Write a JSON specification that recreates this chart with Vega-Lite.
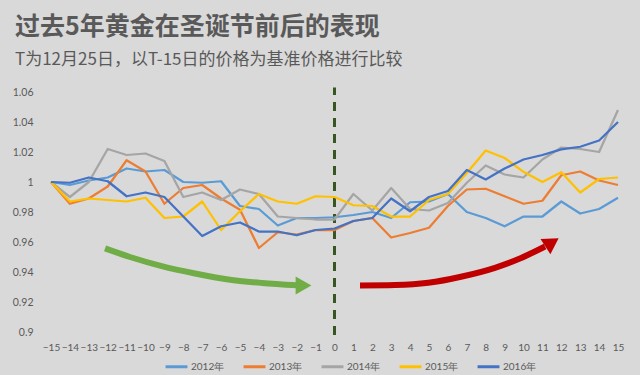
{
  "$schema": "https://vega.github.io/schema/vega-lite/v6.json",
  "autosize": {"type": "none"},
  "width": 567,
  "height": 240,
  "padding": {"left": 51, "top": 92, "right": 22, "bottom": 43},
  "background": "#d9d9d9",
  "title": {
    "text": "过去5年黄金在圣诞节前后的表现",
    "subtitle": "T为12月25日，以T-15日的价格为基准价格进行比较",
    "anchor": "start",
    "frame": "group",
    "dx": -36,
    "offset": 18,
    "font": "Noto Sans CJK SC",
    "fontSize": 25,
    "fontWeight": "bold",
    "color": "#595959",
    "subtitleFont": "Noto Sans CJK SC",
    "subtitleFontSize": 17,
    "subtitleColor": "#595959",
    "subtitlePadding": 12
  },
  "datasets": {
    "gold": [
      {"t": -15, "2012年": 1, "2013年": 1, "2014年": 1, "2015年": 1, "2016年": 1},
      {"t": -14, "2012年": 0.998, "2013年": 0.9855, "2014年": 0.99, "2015年": 0.987, "2016年": 0.9995},
      {"t": -13, "2012年": 1.001, "2013年": 0.989, "2014年": 1.0, "2015年": 0.989, "2016年": 1.003},
      {"t": -12, "2012年": 1.003, "2013年": 0.997, "2014年": 1.022, "2015年": 0.988, "2016年": 1.0005},
      {"t": -11, "2012年": 1.009, "2013年": 1.0145, "2014年": 1.018, "2015年": 0.987, "2016年": 0.9905},
      {"t": -10, "2012年": 1.007, "2013年": 1.007, "2014年": 1.019, "2015年": 0.9895, "2016年": 0.993},
      {"t": -9, "2012年": 1.008, "2013年": 0.9855, "2014年": 1.014, "2015年": 0.976, "2016年": 0.99},
      {"t": -8, "2012年": 1.0, "2013年": 0.996, "2014年": 0.99, "2015年": 0.977, "2016年": 0.977},
      {"t": -7, "2012年": 0.9995, "2013年": 0.998, "2014年": 0.993, "2015年": 0.987, "2016年": 0.964},
      {"t": -6, "2012年": 1.0005, "2013年": 0.989, "2014年": 0.988, "2015年": 0.968, "2016年": 0.9705},
      {"t": -5, "2012年": 0.984, "2013年": 0.9815, "2014年": 0.995, "2015年": 0.9805, "2016年": 0.973},
      {"t": -4, "2012年": 0.982, "2013年": 0.956, "2014年": 0.992, "2015年": 0.992, "2016年": 0.967},
      {"t": -3, "2012年": 0.971, "2013年": 0.9665, "2014年": 0.977, "2015年": 0.987, "2016年": 0.967},
      {"t": -2, "2012年": 0.976, "2013年": 0.965, "2014年": 0.976, "2015年": 0.9855, "2016年": 0.9645},
      {"t": -1, "2012年": 0.976, "2013年": 0.968, "2014年": 0.975, "2015年": 0.9905, "2016年": 0.968},
      {"t": 0, "2012年": 0.9765, "2013年": 0.968, "2014年": 0.975, "2015年": 0.99, "2016年": 0.969},
      {"t": 1, "2012年": 0.978, "2013年": 0.974, "2014年": 0.992, "2015年": 0.9845, "2016年": 0.974},
      {"t": 2, "2012年": 0.98, "2013年": 0.976, "2014年": 0.981, "2015年": 0.984, "2016年": 0.976},
      {"t": 3, "2012年": 0.976, "2013年": 0.963, "2014年": 0.996, "2015年": 0.977, "2016年": 0.989},
      {"t": 4, "2012年": 0.9865, "2013年": 0.966, "2014年": 0.982, "2015年": 0.977, "2016年": 0.9805},
      {"t": 5, "2012年": 0.987, "2013年": 0.9695, "2014年": 0.981, "2015年": 0.988, "2016年": 0.99},
      {"t": 6, "2012年": 0.992, "2013年": 0.984, "2014年": 0.986, "2015年": 0.992, "2016年": 0.994},
      {"t": 7, "2012年": 0.98, "2013年": 0.995, "2014年": 0.9995, "2015年": 1.006, "2016年": 1.008},
      {"t": 8, "2012年": 0.976, "2013年": 0.9955, "2014年": 1.011, "2015年": 1.021, "2016年": 1.0017},
      {"t": 9, "2012年": 0.9705, "2013年": 0.9905, "2014年": 1.005, "2015年": 1.016, "2016年": 1.009},
      {"t": 10, "2012年": 0.977, "2013年": 0.9855, "2014年": 1.003, "2015年": 1.0068, "2016年": 1.015},
      {"t": 11, "2012年": 0.977, "2013年": 0.9875, "2014年": 1.015, "2015年": 1.0, "2016年": 1.018},
      {"t": 12, "2012年": 0.987, "2013年": 1.0045, "2014年": 1.023, "2015年": 1.0065, "2016年": 1.0217},
      {"t": 13, "2012年": 0.979, "2013年": 1.007, "2014年": 1.022, "2015年": 0.993, "2016年": 1.0235},
      {"t": 14, "2012年": 0.982, "2013年": 1.001, "2014年": 1.02, "2015年": 1.002, "2016年": 1.0277},
      {"t": 15, "2012年": 0.9895, "2013年": 0.998, "2014年": 1.048, "2015年": 1.003, "2016年": 1.04}
    ],
    "greenArrow": [
      {"i": 1, "t": -12.14, "v": 0.9557},
      {"i": 2, "t": -10.82, "v": 0.95},
      {"i": 3, "t": -9.14, "v": 0.9439},
      {"i": 4, "t": -7.38, "v": 0.939},
      {"i": 5, "t": -5.62, "v": 0.935},
      {"i": 6, "t": -3.84, "v": 0.9327},
      {"i": 7, "t": -1.98, "v": 0.9312}
    ],
    "greenHead": [{"t": -1.64, "v": 0.931}],
    "redArrow": [
      {"i": 1, "t": 1.35, "v": 0.931},
      {"i": 2, "t": 3.2, "v": 0.9313},
      {"i": 3, "t": 4.96, "v": 0.9328},
      {"i": 4, "t": 6.75, "v": 0.937},
      {"i": 5, "t": 8.49, "v": 0.9428},
      {"i": 6, "t": 9.81, "v": 0.949},
      {"i": 7, "t": 11.14, "v": 0.957}
    ],
    "redHead": [{"t": 11.51, "v": 0.9597}],
    "divider": [{"t": 0, "v": 0.898, "v2": 1.063}]
  },
  "encoding": {
    "x": {"field": "t", "type": "quantitative", "scale": {"domain": [-15, 15], "nice": false, "zero": false}, "axis": {"values": [-15,-14,-13,-12,-11,-10,-9,-8,-7,-6,-5,-4,-3,-2,-1,0,1,2,3,4,5,6,7,8,9,10,11,12,13,14,15], "title": null, "labelPadding": 10, "labelFontSize": 10, "labelOverlap": false, "labelFlush": false, "labelBound": false}},
    "y": {"field": "v", "type": "quantitative", "scale": {"domain": [0.9, 1.06], "nice": false, "zero": false}, "axis": {"values": [0.9, 0.92, 0.94, 0.96, 0.98, 1, 1.02, 1.04, 1.06], "format": "~g", "title": null, "labelPadding": 18, "labelOverlap": false, "labelFlush": false, "labelBound": false}}
  },
  "layer": [
    {
      "data": {"name": "divider"},
      "mark": {"type": "rule", "color": "#375623", "strokeWidth": 3, "strokeDash": [9, 7]},
      "encoding": {"y2": {"field": "v2"}}
    },
    {
      "data": {"name": "gold"},
      "transform": [{"fold": ["2012年", "2013年", "2014年", "2015年", "2016年"], "as": ["year", "v"]}],
      "mark": {"type": "line", "strokeWidth": 2.25, "strokeJoin": "round"},
      "encoding": {
        "color": {
          "field": "year",
          "type": "nominal",
          "scale": {"domain": ["2012年", "2013年", "2014年", "2015年", "2016年"], "range": ["#5b9bd5", "#ed7d31", "#a5a5a5", "#ffc000", "#4472c4"]},
          "legend": {
            "title": null,
            "orient": "none",
            "direction": "horizontal",
            "legendX": 113,
            "legendY": 262,
            "symbolType": "stroke",
            "symbolSize": 480,
            "symbolStrokeWidth": 3,
            "labelFontSize": 10,
            "labelColor": "#595959",
            "labelFont": "Lato",
            "labelOffset": 2,
            "columnPadding": 12
          }
        }
      }
    },
    {
      "data": {"name": "greenArrow"},
      "mark": {"type": "line", "color": "#70ad47", "strokeWidth": 6, "interpolate": "monotone", "strokeCap": "butt"},
      "encoding": {"order": {"field": "i"}}
    },
    {
      "data": {"name": "greenHead"},
      "mark": {"type": "point", "shape": "triangle-right", "filled": true, "color": "#70ad47", "size": 330, "opacity": 1}
    },
    {
      "data": {"name": "redArrow"},
      "mark": {"type": "line", "color": "#c00000", "strokeWidth": 6, "interpolate": "monotone", "strokeCap": "butt"},
      "encoding": {"order": {"field": "i"}}
    },
    {
      "data": {"name": "redHead"},
      "mark": {"type": "point", "shape": "triangle-right", "filled": true, "color": "#c00000", "size": 330, "opacity": 1, "angle": -33}
    }
  ],
  "config": {
    "view": {"stroke": null},
    "axis": {"grid": false, "domain": false, "ticks": false, "labelFont": "Lato", "labelFontSize": 10.5, "labelColor": "#595959", "labelOverlap": false}
  }
}
